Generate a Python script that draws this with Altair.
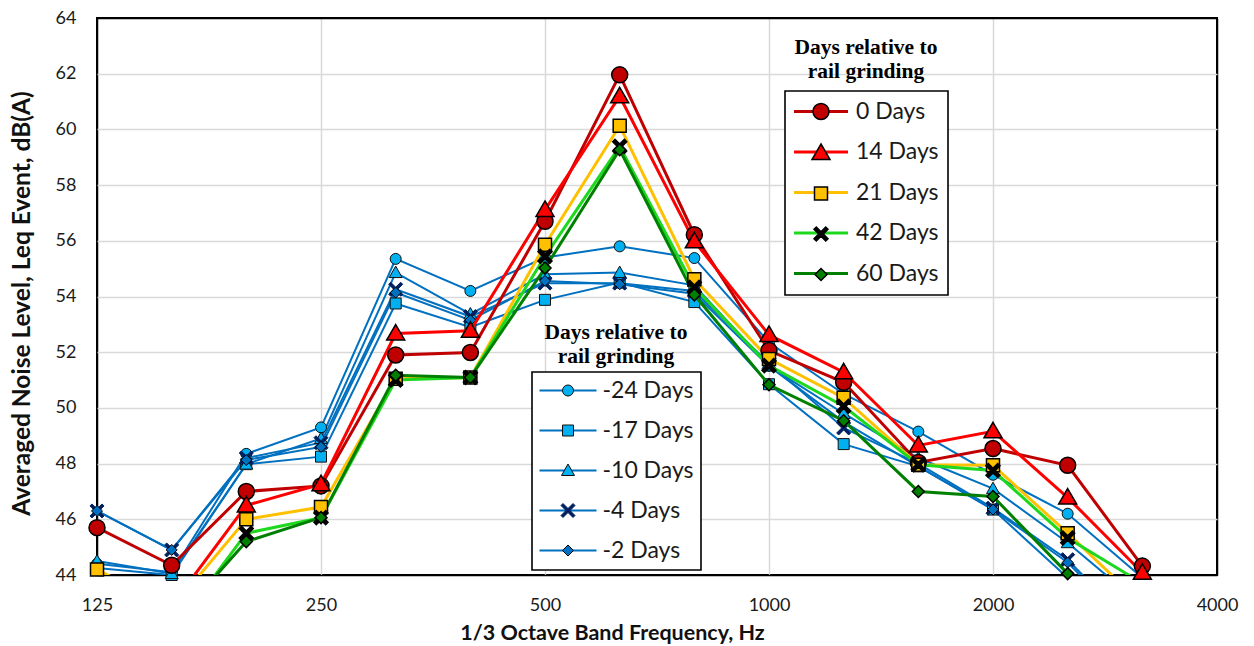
import altair as alt
import pandas as pd

# ---------------- data ----------------
FREQ = [125, 157.5, 198.4, 250, 315, 396.9, 500, 630, 793.7, 1000, 1259.9, 1587.4, 2000, 2519.8, 3174.8]
X_TICKS = [125, 250, 500, 1000, 2000, 4000]
Y_TICKS = [44, 46, 48, 50, 52, 54, 56, 58, 60, 62, 64]

NEG_NAMES = ["-24 Days", "-17 Days", "-10 Days", "-4 Days", "-2 Days"]
NEG_24 = [44.4, 44.1, 48.35, 49.3, 55.35, 54.2, 55.4, 55.8, 55.38, 52.35, 50.5, 49.15, 47.6, 46.2, 43.9]
NEG_17 = [44.25, 44.0, 47.98, 48.25, 53.75, 52.9, 53.88, 54.5, 53.8, 50.85, 48.7, 47.9, 46.35, 43.9, 41.5]
NEG_10 = [44.5, 44.05, 47.98, 48.9, 54.86, 53.37, 54.8, 54.86, 54.4, 51.5, 49.8, 48.2, 47.1, 45.16, 42.9]
NEG_4 = [46.3, 44.9, 48.2, 48.75, 54.26, 53.28, 54.48, 54.48, 54.2, 51.6, 49.28, 48.0, 46.4, 44.55, 41.8]
NEG_2 = [46.3, 44.9, 48.13, 48.6, 54.14, 53.15, 54.56, 54.44, 54.1, 51.5, 49.5, 47.9, 46.35, 44.45, 41.7]

POS_NAMES = ["0 Days", "14 Days", "21 Days", "42 Days", "60 Days"]
POS_0 = [45.7, 44.35, 47.0, 47.2, 51.9, 51.99, 56.7, 61.96, 56.22, 52.06, 50.92, 48.04, 48.54, 47.94, 44.32]
POS_14 = [43.0, 42.9, 46.5, 47.26, 52.67, 52.77, 57.11, 61.19, 55.98, 52.62, 51.28, 48.65, 49.16, 46.78, 44.08]
POS_21 = [44.2, 42.8, 46.0, 46.44, 51.05, 51.09, 55.86, 60.13, 54.62, 51.76, 50.36, 47.96, 47.94, 45.5, 42.95]
POS_42 = [43.0, 41.9, 45.5, 46.06, 51.0, 51.09, 55.44, 59.39, 54.33, 51.52, 50.06, 47.96, 47.75, 45.33, 43.7]
POS_60 = [43.0, 42.2, 45.2, 46.06, 51.17, 51.09, 55.02, 59.27, 54.06, 50.83, 49.54, 47.0, 46.82, 44.05, 41.5]

LEGEND_TITLE = ["Days relative to", "rail grinding"]


def long_table(names, series):
    rows = []
    for name, vals in zip(names, series):
        for f, v in zip(FREQ, vals):
            rows.append({"freq": f, "value": v, "series": name})
    return pd.DataFrame(rows)


neg_df = long_table(NEG_NAMES, [NEG_24, NEG_17, NEG_10, NEG_4, NEG_2])
pos_df = long_table(POS_NAMES, [POS_0, POS_14, POS_21, POS_42, POS_60])

# ---------------- marker shapes (custom symbol paths) ----------------
def u(px, r):
    return round(px / r, 4)


def poly(points):
    return "M" + "L".join(f"{x},{y}" for x, y in points) + "Z"


def circle_path(r):
    return f"M{r},0A{r},{r},0,1,1,{-r},0A{r},{r},0,1,1,{r},0Z"


def square_path(h):
    return poly([(-h, -h), (h, -h), (h, h), (-h, h)])


def diamond_path(h):
    return poly([(0, -h), (h, 0), (0, h), (-h, 0)])


def triangle_path(a, w, b):
    return poly([(0, -a), (w, b), (-w, b)])


def cross_path(h, t):
    return poly([(-h, -h + t), (-h + t, -h), (0, -t), (h - t, -h), (h, -h + t), (t, 0),
                 (h, h - t), (h - t, h), (0, t), (-h + t, h), (-h, h - t), (-t, 0)])


def hline_path(half):
    return f"M{-half},0L{half},0"


POS_SIZE = 225    # sqrt = 15 -> path unit = 7.5 px
RP = 7.5
NEG_SIZE = 121    # sqrt = 11 -> path unit = 5.5 px
RN = 5.5
LINE_SYM_SIZE = 100  # path unit = 5 px
RL = 5.0

POS_SHAPES = [
    circle_path(u(8, RP)),
    triangle_path(u(9, RP), u(9, RP), u(6.5, RP)),
    square_path(u(6.5, RP)),
    cross_path(u(7, RP), u(2.3, RP)),
    diamond_path(u(6, RP)),
]
NEG_SHAPES = [
    circle_path(u(5.5, RN)),
    square_path(u(5.5, RN)),
    triangle_path(u(6.5, RN), u(6.5, RN), u(5, RN)),
    cross_path(u(7, RN), u(2.0, RN)),
    diamond_path(u(5.5, RN)),
]

POS_LINE = ["#C00000", "#FF0000", "#FFC000", "#1ED81E", "#008000"]
POS_FILL = ["#C00000", "#FF0000", "#FFC000", "#000000", "#008000"]
POS_EDGE = ["#000000", "#000000", "#000000", "#000000", "#000000"]
NEG_LINE = ["#0070C0"] * 5
NEG_FILL = ["#00B0F0", "#00B0F0", "#00B0F0", "#002060", "#0070C0"]
NEG_EDGE = ["#111111", "#111111", "#111111", "#002060", "#000000"]

FONT = "Lato"
LABEL_SIZE = 23

# ---------------- shared axes ----------------
edge_grid = {"condition": {"test": "datum.value == 44 || datum.value == 64 || datum.value == 125 || datum.value == 4000",
                           "value": "#000000"}, "value": "#D9D9D9"}

X = alt.X(
    "freq:Q",
    scale=alt.Scale(type="log", domain=[125, 4000], nice=False),
    axis=alt.Axis(
        values=X_TICKS, format="d", ticks=False, domain=False, grid=True,
        gridColor=edge_grid, gridWidth=1.5,
        labelFont=FONT, labelFontSize=18, labelColor="#1a1a1a", labelPadding=21,
        labelFlush=False,
        title="1/3 Octave Band Frequency, Hz", titleFont=FONT, titleFontSize=21.5,
        titleFontWeight="bold", titleColor="#111111", titleX=515, titleY=58,
        titleBaseline="middle", titleAlign="center",
    ),
)
Y = alt.Y(
    "value:Q",
    scale=alt.Scale(domain=[44, 64], nice=False, zero=False),
    axis=alt.Axis(
        values=Y_TICKS, ticks=False, domain=False, grid=True,
        gridColor=edge_grid, gridWidth=1.5,
        labelFont=FONT, labelFontSize=18, labelColor="#1a1a1a", labelPadding=21,
        title="Averaged Noise Level, Leq Event, dB(A)", titleFont=FONT, titleFontSize=24.5,
        titleFontWeight="bold", titleColor="#111111", titleX=-75, titleY=285,
        titleBaseline="middle", titleAlign="center", titleAngle=-90,
    ),
)


def line_legend(x, y, pad, half, sw, sym_off, lab_off, row_pad):
    return alt.Legend(
        orient="none", legendX=x, legendY=y, title=None, direction="vertical",
        symbolType=hline_path(u(half, RL)), symbolSize=LINE_SYM_SIZE, symbolStrokeWidth=sw,
        symbolOffset=sym_off,
        labelFont=FONT, labelFontSize=LABEL_SIZE, labelColor="#1a1a1a", labelOffset=lab_off,
        rowPadding=row_pad, padding=pad, strokeColor="#000000", fillColor="#FFFFFF", zindex=2,
    )


def point_legend(x, y, size, sw, sym_off, lab_off, row_pad, tpad):
    return alt.Legend(
        orient="none", legendX=x, legendY=y, title=LEGEND_TITLE, direction="vertical",
        titleFont="Liberation Serif", titleFontSize=21.5, titleFontWeight="bold",
        titleLineHeight=24, titleAnchor="middle", titleAlign="center", titleColor="#000000",
        titlePadding=tpad,
        symbolSize=size, symbolStrokeWidth=sw, symbolOffset=sym_off,
        labelFont=FONT, labelFontSize=LABEL_SIZE, labelOpacity=0, labelOffset=lab_off,
        rowPadding=row_pad, padding=0, zindex=3,
    )


# ---------------- layers ----------------
neg_line_leg = line_legend(435, 354, 7, 28.5, 2, 17.5, 23, 16)
neg_pt_leg = point_legend(442, 304, NEG_SIZE, 1, 17.5, 23, 16, 11.5)
pos_line_leg = line_legend(688, 73, 9, 27, 3, 15.5, 23.5, 16.5)
pos_pt_leg = point_legend(697, 19, POS_SIZE, 1.5, 15.5, 23.5, 16.5, 17.5)

neg_lines = alt.Chart(neg_df).mark_line(strokeWidth=2, clip=True).encode(
    x=X, y=Y,
    stroke=alt.Stroke("series:N", scale=alt.Scale(domain=NEG_NAMES, range=NEG_LINE), legend=neg_line_leg),
)
neg_points = alt.Chart(neg_df).transform_filter("datum.value >= 43.95").mark_point(
    filled=True, size=NEG_SIZE, strokeWidth=1, opacity=1
).encode(
    x=X, y=Y,
    shape=alt.Shape("series:N", scale=alt.Scale(domain=NEG_NAMES, range=NEG_SHAPES), legend=neg_pt_leg),
    fill=alt.Fill("series:N", scale=alt.Scale(domain=NEG_NAMES, range=NEG_FILL), legend=neg_pt_leg),
    stroke=alt.Stroke("series:N", scale=alt.Scale(domain=NEG_NAMES, range=NEG_EDGE), legend=neg_pt_leg),
)
pos_lines = alt.Chart(pos_df).mark_line(strokeWidth=3, clip=True).encode(
    x=X, y=Y,
    stroke=alt.Stroke("series:N", scale=alt.Scale(domain=POS_NAMES, range=POS_LINE), legend=pos_line_leg),
)
pos_points = alt.Chart(pos_df).transform_filter("datum.value >= 43.95").mark_point(
    filled=True, size=POS_SIZE, strokeWidth=1.5, opacity=1
).encode(
    x=X, y=Y,
    shape=alt.Shape("series:N", scale=alt.Scale(domain=POS_NAMES, range=POS_SHAPES), legend=pos_pt_leg),
    fill=alt.Fill("series:N", scale=alt.Scale(domain=POS_NAMES, range=POS_FILL), legend=pos_pt_leg),
    stroke=alt.Stroke("series:N", scale=alt.Scale(domain=POS_NAMES, range=POS_EDGE), legend=pos_pt_leg),
)

chart = (
    alt.layer(neg_lines, neg_points, pos_lines, pos_points)
    .resolve_scale(stroke="independent", fill="independent", shape="independent")
    .properties(
        width=1120, height=557,
        padding={"left": 97, "top": 18, "right": 37, "bottom": 71},
        autosize=alt.AutoSizeParams(type="none"),
        background="white",
    )
    .configure_view(stroke="#000000", strokeWidth=2)
    .configure_legend(strokeWidth=1.6)
)

chart.save("out.html", embed_options={"renderer": "svg", "actions": False})
